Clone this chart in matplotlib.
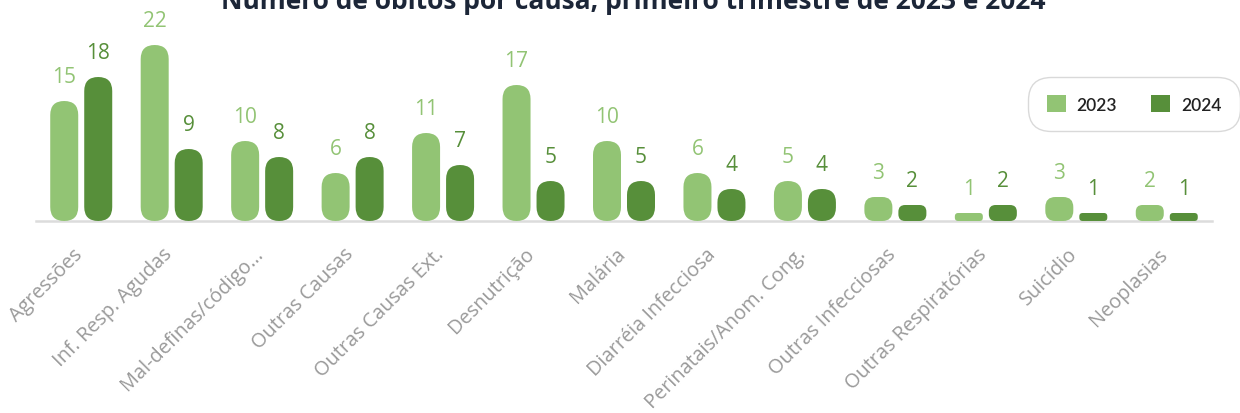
import matplotlib
matplotlib.use("Agg")
import matplotlib.pyplot as plt
from matplotlib.patches import FancyBboxPatch, Patch
import matplotlib.transforms as mtransforms
import numpy as np

categories = ["Agressões", "Inf. Resp. Agudas", "Mal-definas/código...", "Outras Causas",
              "Outras Causas Ext.", "Desnutrição", "Malária", "Diarréia Infecciosa",
              "Perinatais/Anom. Cong.", "Outras Infecciosas", "Outras Respiratórias",
              "Suicídio", "Neoplasias"]
values_2023 = [15, 22, 10, 6, 11, 17, 10, 6, 5, 3, 1, 3, 2]
values_2024 = [18, 9, 8, 8, 7, 5, 5, 4, 4, 2, 2, 1, 1]
series_names = ["2023", "2024"]

c23 = "#92c474"
c24 = "#578f3a"

W, H = 1240, 414
fig = plt.figure(figsize=(W / 100, H / 100), dpi=100)
ax_left, ax_right = 36, 1212
base_y, top_y = 222, 30
ax = fig.add_axes([ax_left / W, (H - base_y) / H, (ax_right - ax_left) / W, (base_y - top_y) / H])

n = len(categories)
x = np.arange(n)
ax.set_xlim(-0.5, n - 0.5)
ax.set_ylim(0, 24)

xu_per_px = n / (ax_right - ax_left)
yu_per_px = 24 / (base_y - top_y)
bw = 28 * xu_per_px
off = 17 * xu_per_px

bars23 = ax.bar(x - off, values_2023, width=bw, color=c23)
bars24 = ax.bar(x + off, values_2024, width=bw, color=c24)

aspect = yu_per_px / xu_per_px
for bars, col in ((bars23, c23), (bars24, c24)):
    for b in bars:
        bx, by, bwid, bh = b.get_x(), b.get_y(), b.get_width(), b.get_height()
        b.set_visible(False)
        h_px = bh / yu_per_px
        r_px = min(14, h_px * 0.42)
        p = FancyBboxPatch((bx, by), bwid, bh,
                           boxstyle=f"round,pad=0,rounding_size={r_px * xu_per_px}",
                           mutation_aspect=aspect, facecolor=col, edgecolor="none",
                           zorder=3, clip_on=False)
        ax.add_patch(p)

for xi, v in zip(x - off, values_2023):
    ax.annotate(str(v), (xi, v), xytext=(0, 17.5), textcoords="offset points",
                ha="center", va="center", color=c23, fontsize=15, family="Open Sans")
for xi, v in zip(x + off, values_2024):
    ax.annotate(str(v), (xi, v), xytext=(0, 17.5), textcoords="offset points",
                ha="center", va="center", color=c24, fontsize=15, family="Open Sans",
                fontweight="medium")

for s in ["top", "right", "left"]:
    ax.spines[s].set_visible(False)
ax.spines["bottom"].set_color("#dcdcdc")
ax.spines["bottom"].set_linewidth(1.8)
ax.spines["bottom"].set_zorder(1)
ax.set_yticks([])
ax.set_xticks(x)
ax.set_xticklabels(categories, rotation=45, ha="right", va="top", rotation_mode="anchor",
                   fontsize=14.3, color="#9a9a9a", family="Open Sans")
ax.tick_params(axis="x", length=0, pad=12)
shift = mtransforms.ScaledTranslation(-9 / 100, -6 / 100, fig.dpi_scale_trans)
for lbl in ax.get_xticklabels():
    lbl.set_transform(lbl.get_transform() + shift)

fig.text(0.511, 1 - 1.5 / H, "Número de óbitos por causa, primeiro trimestre de 2023 e 2024",
         ha="center", va="center", fontsize=19, fontweight="bold", color="#1c2638",
         family="Open Sans")

handles = [Patch(facecolor=c23, edgecolor="none", label=series_names[0]),
           Patch(facecolor=c24, edgecolor="none", label=series_names[1])]
leg = fig.legend(handles=handles, loc="center", bbox_to_anchor=(1134 / W, (H - 105) / H),
                 ncol=2, frameon=True, handlelength=1.1, handleheight=1.1,
                 columnspacing=2.0, handletextpad=0.6, borderpad=0.8,
                 prop={"family": "Lato", "size": 12.5, "weight": "semibold"})
fr = leg.get_frame()
fr.set_edgecolor("#d0d0d0")
fr.set_boxstyle("round,pad=0.25,rounding_size=1.3")
fr.set_linewidth(1.0)
for t in leg.get_texts():
    t.set_color("#222222")

fig.savefig("out.png", dpi=100)
